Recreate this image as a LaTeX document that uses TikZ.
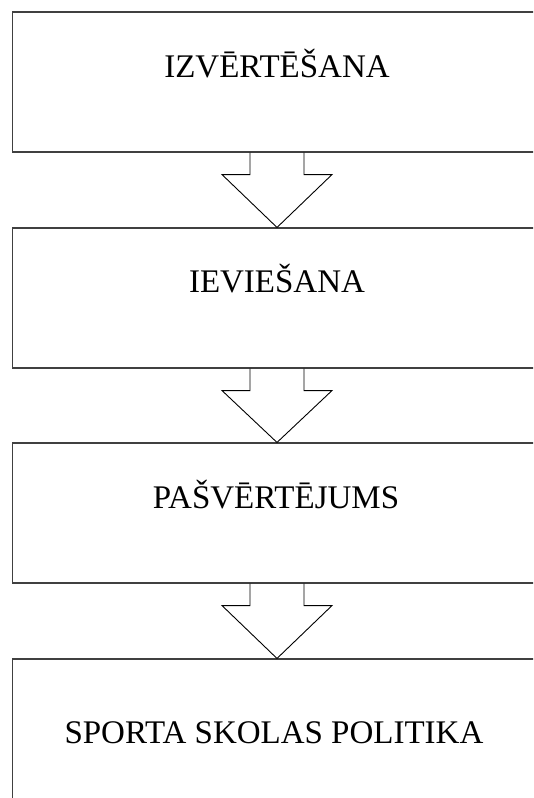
\documentclass[tikz,border=0pt]{standalone}
\usepackage{fontspec}
\setmainfont{Liberation Serif}
\begin{document}
\begin{tikzpicture}[x=1pt,y=-1pt,
  stage/.style={draw=black!75,line width=1.1pt,minimum width=529pt,inner sep=0pt},
  lbl/.style={anchor=base,font=\fontsize{33}{36}\selectfont,inner sep=0pt},
  barrow/.style={draw=black,line width=0.9pt,line join=miter}]
\useasboundingbox (0,0) rectangle (533,798);
\clip (0,0) rectangle (533,798);
\node[stage,minimum height=140pt] (b1) at (277,82) {};
\node[stage,minimum height=140pt] (b2) at (277,298) {};
\node[stage,minimum height=140pt] (b3) at (277,513) {};
\node[stage,minimum height=170pt] (b4) at (277,744) {};
\node[lbl] (t1) at (277,77) {IZVĒRTĒŠANA};
\node[lbl] (t2) at (277,292) {IEVIEŠANA};
\node[lbl] (t3) at (276,508) {PAŠVĒRTĒJUMS};
\node[lbl] (t4) at (274,743) {SPORTA SKOLAS POLITIKA};
\foreach \a/\b in {b1/b2,b2/b3,b3/b4}{
  \fill[white] ([xshift=-27pt,yshift=-1pt]\a.south) -- ([xshift=-27pt,yshift=-22pt]\a.south)
    -- ([xshift=-55pt,yshift=-22pt]\a.south) -- (\b.north) -- ([xshift=55pt,yshift=-22pt]\a.south)
    -- ([xshift=27pt,yshift=-22pt]\a.south) -- ([xshift=27pt,yshift=-1pt]\a.south) -- cycle;
  \draw[barrow] ([xshift=-27pt]\a.south) -- ([xshift=-27pt,yshift=-22pt]\a.south)
    -- ([xshift=-55pt,yshift=-22pt]\a.south) -- (\b.north) -- ([xshift=55pt,yshift=-22pt]\a.south)
    -- ([xshift=27pt,yshift=-22pt]\a.south) -- ([xshift=27pt]\a.south);
}
\end{tikzpicture}
\end{document}
